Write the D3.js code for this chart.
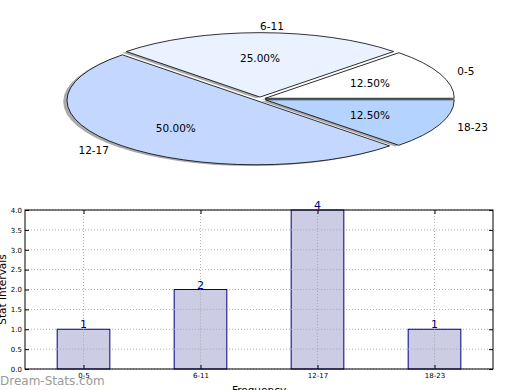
<!DOCTYPE html>
<html>
<head>
<meta charset="utf-8">
<script src="https://cdn.jsdelivr.net/npm/d3@7"></script>
<style>
  body { margin: 0; background: #fff; }
  svg { font-family: "DejaVu Sans", sans-serif; display: block; }
</style>
</head>
<body>
<svg id="chart"></svg>
<script>
// DATOS
const categories = ["0-5", "6-11", "12-17", "18-23"];
const frequencies = [1, 2, 4, 1];
const sliceColors = ["#ffffff", "#eaf1ff", "#c4d8ff", "#b4d4ff"];
const yTicks = [0, 0.5, 1, 1.5, 2, 2.5, 3, 3.5, 4];

const width = 520, height = 390;
const svg = d3.select("#chart").attr("width", width).attr("height", height);

// ---------- PIE (elipse, estilo matplotlib) ----------
const cx = 260, cy = 99, rx = 189, ry = 64.4;
const explode = 0.03;
const total = d3.sum(frequencies);

// angulos ccw desde las 3 en punto
const pie = d3.pie().sort(null).startAngle(0).endAngle(2 * Math.PI);
const arcs = pie(frequencies).map((d, i) => ({
  name: categories[i], value: d.value, color: sliceColors[i],
  a0: d.startAngle, a1: d.endAngle, mid: (d.startAngle + d.endAngle) / 2
}));

const px = (a, r) => r * Math.cos(a) * rx;
const py = (a, r) => -r * Math.sin(a) * ry;

function wedge(d, ox, oy) {
  const x0 = cx + ox + px(d.mid, explode), y0 = cy + oy + py(d.mid, explode);
  const large = (d.a1 - d.a0) > Math.PI ? 1 : 0;
  return `M${x0},${y0}L${x0 + px(d.a0, 1)},${y0 + py(d.a0, 1)}` +
    `A${rx},${ry} 0 ${large} 0 ${x0 + px(d.a1, 1)},${y0 + py(d.a1, 1)}Z`;
}

const pg = svg.append("g");
// sombra
pg.selectAll("path.shadow").data(arcs).enter().append("path")
  .attr("class", "shadow")
  .attr("d", d => wedge(d, -0.02 * rx, 0.02 * ry))
  .attr("fill", "#555").attr("fill-opacity", 0.5).attr("stroke", "none");
// porciones
pg.selectAll("path.slice").data(arcs).enter().append("path")
  .attr("class", "slice")
  .attr("d", d => wedge(d, 0, 0))
  .attr("fill", d => d.color).attr("stroke", "#000").attr("stroke-width", 0.8);

// etiquetas
pg.selectAll("text.lab").data(arcs).enter().append("text")
  .attr("x", d => cx + px(d.mid, 1.1 + explode))
  .attr("y", d => cy + py(d.mid, 1.1 + explode))
  .attr("text-anchor", d => Math.cos(d.mid) > -1e-9 ? "start" : "end")
  .attr("dominant-baseline", "central")
  .attr("font-size", "10.5px")
  .text(d => d.name);

pg.selectAll("text.pct").data(arcs).enter().append("text")
  .attr("x", d => cx + px(d.mid, 0.6 + explode))
  .attr("y", d => cy + py(d.mid, 0.6 + explode))
  .attr("text-anchor", "middle")
  .attr("dominant-baseline", "central")
  .attr("font-size", "10.5px")
  .text(d => (d.value / total * 100).toFixed(2) + "%");

// ---------- BARRAS ----------
const mLeft = 25, mRight = 493, mTop = 210, mBottom = 369;
const x = d3.scaleLinear().domain([-0.5, categories.length - 0.5]).range([mLeft, mRight]);
const y = d3.scaleLinear().domain([0, 4]).range([mBottom, mTop]);
const barW = 0.45;

const bg = svg.append("g");
// rejilla
bg.selectAll("line.gy").data(yTicks).enter().append("line")
  .attr("x1", mLeft).attr("x2", mRight).attr("y1", d => y(d)).attr("y2", d => y(d))
  .attr("stroke", "#b0b0b0").attr("stroke-dasharray", "1,2").attr("stroke-width", 1);
bg.selectAll("line.gx").data(categories).enter().append("line")
  .attr("x1", (d, i) => x(i)).attr("x2", (d, i) => x(i)).attr("y1", mTop).attr("y2", mBottom)
  .attr("stroke", "#b0b0b0").attr("stroke-dasharray", "1,2").attr("stroke-width", 1);

// barras
bg.selectAll("rect.bar").data(frequencies).enter().append("rect")
  .attr("x", (d, i) => x(i - barW / 2))
  .attr("width", x(barW) - x(0))
  .attr("y", d => y(d)).attr("height", d => mBottom - y(d))
  .attr("fill", "#ccccE5")
  .attr("stroke", "#000080").attr("stroke-width", 1);

// rejilla encima de barras
bg.selectAll("line.gx2").data(frequencies).enter().append("line")
  .attr("x1", (d, i) => x(i)).attr("x2", (d, i) => x(i)).attr("y1", d => y(d)).attr("y2", mBottom)
  .attr("stroke", "#a8a8b8").attr("stroke-dasharray", "1,2");
bg.selectAll("line.gy2").data(yTicks.filter(t => t > 0 && t < 4)).enter().append("g")
  .each(function(t) {
    frequencies.forEach((f, i) => {
      if (f > t) d3.select(this).append("line")
        .attr("x1", x(i - barW / 2)).attr("x2", x(i + barW / 2)).attr("y1", y(t)).attr("y2", y(t))
        .attr("stroke", "#a8a8b8").attr("stroke-dasharray", "1,2");
    });
  });

// valores
bg.selectAll("text.val").data(frequencies).enter().append("text")
  .attr("x", (d, i) => x(i)).attr("y", d => y(d) - 1)
  .attr("text-anchor", "middle").attr("font-size", "11px").attr("fill", "#000080")
  .text(d => d);

// ejes
const yAxis = d3.axisLeft(y).tickValues(yTicks).tickFormat(d3.format(".1f")).tickSize(-4).tickPadding(3);
const yG = bg.append("g").attr("transform", `translate(${mLeft},0)`).call(yAxis);
const yR = bg.append("g").attr("transform", `translate(${mRight},0)`)
  .call(d3.axisRight(y).tickValues(yTicks).tickSize(-4).tickFormat(""));
const xAxis = d3.axisBottom(x).tickValues(d3.range(categories.length))
  .tickFormat(i => categories[i]).tickSize(-4).tickPadding(4);
const xG = bg.append("g").attr("transform", `translate(0,${mBottom})`).call(xAxis);
const xT = bg.append("g").attr("transform", `translate(0,${mTop})`)
  .call(d3.axisTop(x).tickValues(d3.range(categories.length)).tickSize(-4).tickFormat(""));
[yG, yR, xG, xT].forEach(g => {
  g.select(".domain").remove();
  g.selectAll("text").attr("font-size", "7px").attr("fill", "#000").attr("font-family", "DejaVu Sans");
  g.selectAll("line").attr("stroke", "#000");
});
bg.append("rect").attr("x", mLeft).attr("y", mTop).attr("width", mRight - mLeft).attr("height", mBottom - mTop)
  .attr("fill", "none").attr("stroke", "#000").attr("stroke-width", 1);

// titulos de ejes
svg.append("text").attr("transform", `translate(6,${(mTop + mBottom) / 2}) rotate(-90)`)
  .attr("text-anchor", "middle").attr("font-size", "10.5px").text("Stat Intervals");
svg.append("text").attr("x", (mLeft + mRight) / 2).attr("y", 394)
  .attr("text-anchor", "middle").attr("font-size", "10.5px").text("Frequency");

// marca de agua
svg.append("text").attr("x", 0).attr("y", 385)
  .attr("font-size", "12px").attr("fill", "#9a9a9a")
  .text("Dream-Stats.com");
</script>
</body>
</html>
